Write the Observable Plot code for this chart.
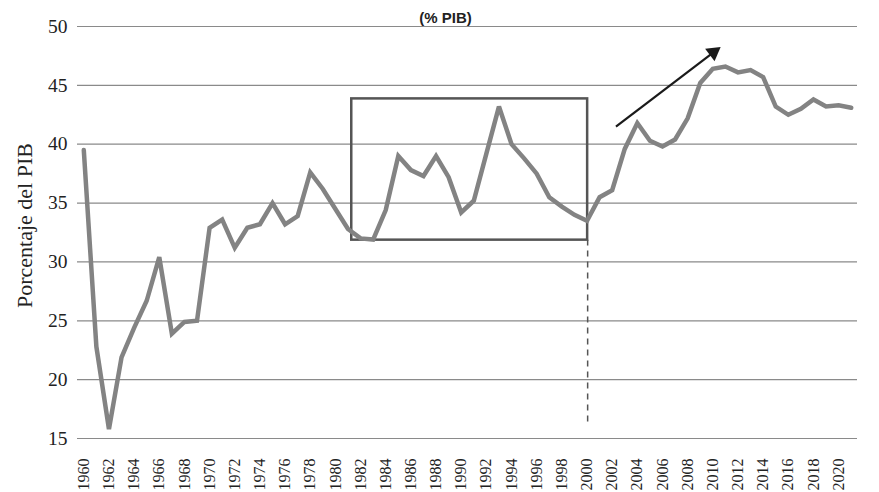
<!DOCTYPE html>
<html>
<head>
<meta charset="utf-8">
<script src="https://cdn.jsdelivr.net/npm/d3@7"></script>
<script src="https://cdn.jsdelivr.net/npm/@observablehq/plot@0.6"></script>
<style>
  html, body { margin: 0; padding: 0; background: #fff; }
  #chart svg { display: block; }
</style>
</head>
<body>
<div id="chart"></div>
<script>
const years = d3.range(1960, 2022);
const values = [
  39.5, 22.8, 15.8, 21.9, 24.4, 26.7, 30.4, 23.9, 24.9, 25.0,
  32.9, 33.6, 31.2, 32.9, 33.2, 35.0, 33.2, 33.9, 37.6, 36.2,
  34.5, 32.8, 32.0, 31.9, 34.4, 39.0, 37.8, 37.3, 39.0, 37.2,
  34.2, 35.2, 39.2, 43.2, 40.0, 38.8, 37.5, 35.5, 34.7, 34.0,
  33.5, 35.5, 36.1, 39.6, 41.8, 40.3, 39.8, 40.4, 42.2, 45.2,
  46.4, 46.6, 46.1, 46.3, 45.7, 43.2, 42.5, 43.0, 43.8, 43.2,
  43.3, 43.1
];
const yTicks = [15, 20, 25, 30, 35, 40, 45, 50];
const xTicks = d3.range(1960, 2021, 2);
const title = "(% PIB)";
const yLabel = "Porcentaje del PIB";

// annotations (data space)
const boxYears = [1981.3, 2000.05];
const boxValues = [31.85, 43.85];
const dashYear = [2000.05];
const dashValues = [16.4, 31.85];
const arrowStart = [2002.3, 41.5];
const arrowEnd = [2010.05, 47.8];

const data = years.map((y, i) => ({year: y, value: values[i]}));

const chart = Plot.plot({
  width: 879,
  height: 492,
  marginLeft: 77,
  marginRight: 22,
  marginTop: 26,
  marginBottom: 54,
  style: {fontFamily: "'Liberation Serif', serif", background: "#fff", overflow: "visible"},
  x: {domain: [1959.5, 2021.5], ticks: xTicks, tickFormat: d => String(d)},
  y: {domain: [15, 50], ticks: yTicks},
  marks: [
    Plot.ruleY(yTicks, {stroke: "#8a8a8a", strokeWidth: 1.2}),
    Plot.axisY({ticks: yTicks, tickSize: 0, tickPadding: 10, label: null, fontSize: 19.5, fill: "#222"}),
    Plot.axisX({ticks: xTicks, tickSize: 0, tickRotate: -90, tickPadding: 20, label: null, fontSize: 16, fill: "#222", tickFormat: d => String(d)}),
    Plot.ruleX(dashYear, {y1: dashValues[0], y2: dashValues[1], stroke: "#555", strokeWidth: 1.5, strokeDasharray: "6,5"}),
    Plot.rect([0], {x1: boxYears[0], x2: boxYears[1], y1: boxValues[0], y2: boxValues[1], fill: "none", stroke: "#555", strokeWidth: 2.5}),
    Plot.line(data, {x: "year", y: "value", stroke: "#838383", strokeWidth: 4.5, strokeLinejoin: "miter", strokeMiterlimit: 3}),
    Plot.link([0], {x1: arrowStart[0], y1: arrowStart[1], x2: arrowEnd[0], y2: arrowEnd[1], stroke: "#1a1a1a", strokeWidth: 2.2}),
    Plot.dot([0], {x: arrowEnd[0], y: arrowEnd[1], symbol: "triangle", r: 5.8, rotate: 53, fill: "#1a1a1a", stroke: "none"}),
    Plot.text([title], {frameAnchor: "top", textAnchor: "middle", dx: -22, dy: -14, fontFamily: "'Liberation Sans', sans-serif", fontWeight: "bold", fontSize: 15, fill: "#222"}),
    Plot.text([yLabel], {frameAnchor: "left", textAnchor: "middle", dx: -53, dy: -7, rotate: -90, fontSize: 22, fill: "#222"})
  ]
});
document.getElementById("chart").appendChild(chart);
</script>
</body>
</html>
